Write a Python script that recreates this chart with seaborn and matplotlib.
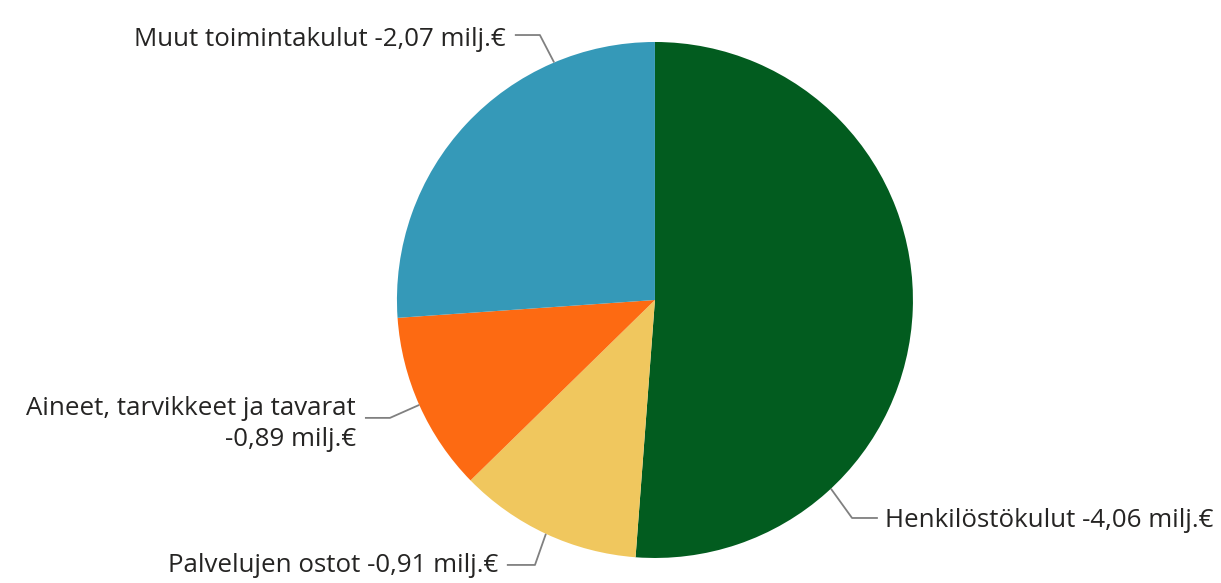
import numpy as np
import matplotlib.pyplot as plt
import seaborn as sns

# Data
categories = ['Henkilöstökulut', 'Palvelujen ostot', 'Aineet, tarvikkeet ja tavarat', 'Muut toimintakulut']
values = [4.06, 0.91, 0.89, 2.07]
colors = ['#025C1F', '#F0C75E', '#FD6A12', '#3599B8']

sns.set_style('white')
plt.rcParams['font.family'] = ['Open Sans', 'DejaVu Sans']

fig = plt.figure(figsize=(12.21, 5.83), dpi=100)
# axis box so that the pie centre sits at ~ (655, 300) px with radius ~258 px
ax = fig.add_axes([0.3251, 0.0429, 0.4226, 0.8851])
ax.pie(values, colors=colors, startangle=90, counterclock=False,
       radius=1.0, wedgeprops=dict(linewidth=0))
ax.set_xlim(-1, 1)
ax.set_ylim(-1, 1)
ax.set_aspect('equal')
ax.axis('off')

def fmt(v):
    return f'-{v:.2f}'.replace('.', ',') + ' milj.€'

# label layout: anchor angle on the rim (deg clockwise from top), elbow, line end, text pos, alignment
layout = {
    'Muut toimintakulut': dict(ang=-23.0, elbow=(-0.446, 1.027), end=(-0.543, 1.027),
                               txt=(-0.578, 1.008), ha='right', newline=False),
    'Aineet, tarvikkeet ja tavarat': dict(ang=-114.0, elbow=(-1.027, -0.457), end=(-1.124, -0.457),
                                          txt=(-1.160, -0.482), ha='right', newline=True),
    'Palvelujen ostot': dict(ang=-155.0, elbow=(-0.465, -1.027), end=(-0.574, -1.027),
                             txt=(-0.606, -1.030), ha='right', newline=False),
    'Henkilöstökulut': dict(ang=137.0, elbow=(0.764, -0.845), end=(0.864, -0.845),
                            txt=(0.890, -0.855), ha='left', newline=False),
}

for cat, val in zip(categories, values):
    L = layout[cat]
    a = np.deg2rad(L['ang'])
    start = (np.sin(a) * 1.0, np.cos(a) * 1.0)
    xs = [start[0], L['elbow'][0], L['end'][0]]
    ys = [start[1], L['elbow'][1], L['end'][1]]
    ax.plot(xs, ys, color='#808080', lw=1.3, clip_on=False, solid_capstyle='butt')
    sep = '\n' if L['newline'] else ' '
    ax.text(L['txt'][0], L['txt'][1], f'{cat}{sep}{fmt(val)}', ha=L['ha'], va='center',
            fontsize=18.6, color='#252423', clip_on=False, linespacing=1.32,
            multialignment='right')

fig.savefig('out.png', dpi=100)
plt.close(fig)
